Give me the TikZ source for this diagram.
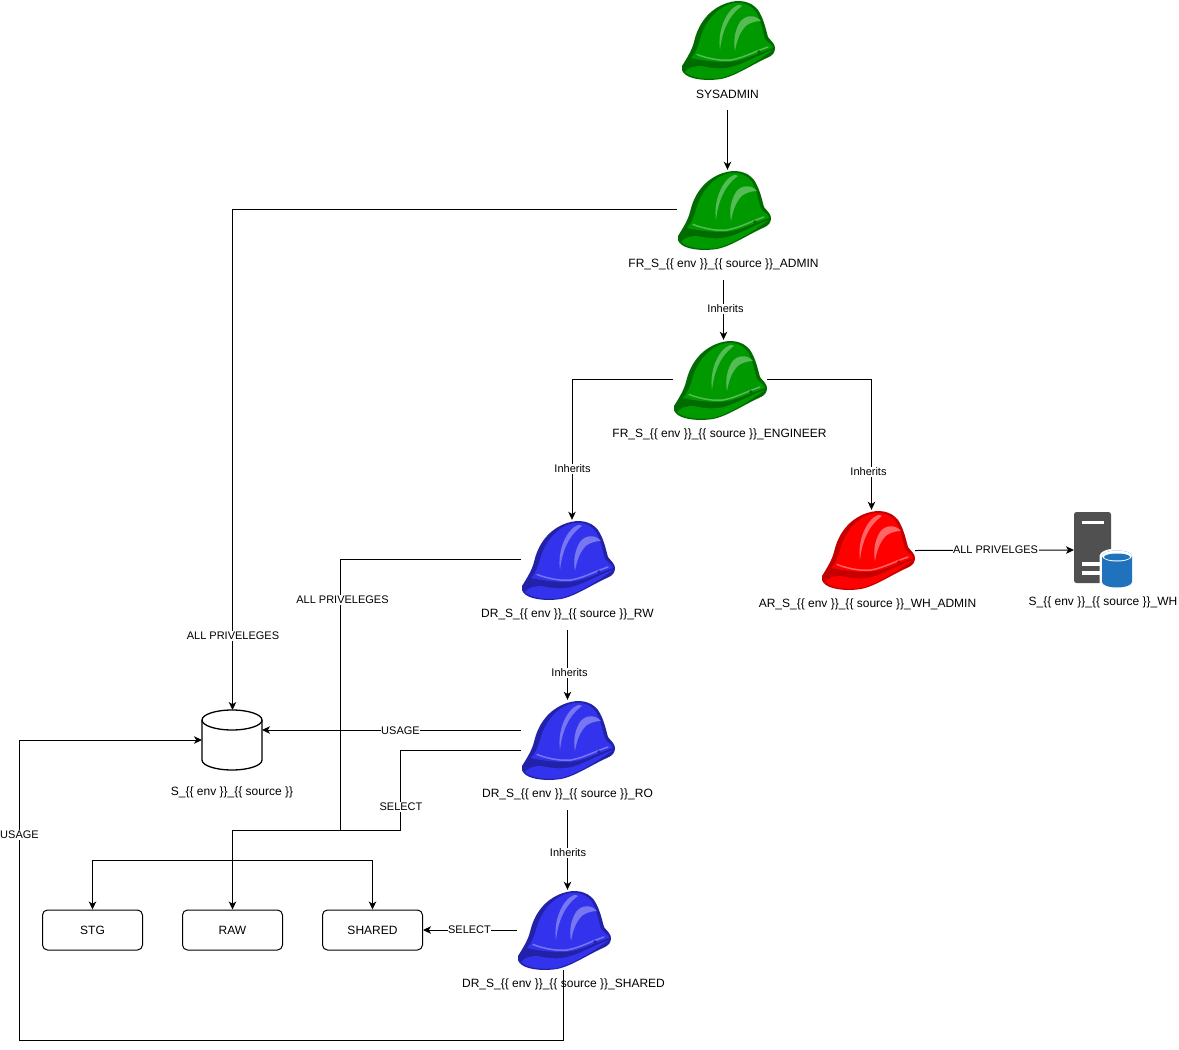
\documentclass[tikz,border=0pt]{standalone}
\usepackage{fontspec}
\setmainfont{Liberation Sans}
\usetikzlibrary{arrows.meta,calc}
\tikzset{
  x=1pt,y=-1pt,
  every node/.style={font=\fontsize{12}{14}\selectfont,inner sep=0pt},
  conn/.style={draw=black,line width=1pt,-{Stealth[length=8pt,width=7.5pt,inset=2.2pt]}},
  plainconn/.style={draw=black,line width=1pt},
  edgelabel/.style={fill=white,font=\fontsize{11}{13}\selectfont,inner xsep=0.5pt,inner ysep=1pt},
  hatanchor/.style={minimum width=94pt,minimum height=80pt},
  hatlabel/.style={minimum height=32pt},
  boxnode/.style={draw=black,line width=1pt,rounded corners=5pt,minimum width=100pt,minimum height=40pt},
}
\definecolor{gB}{HTML}{009A00}\definecolor{gD}{HTML}{006B00}\definecolor{gL}{HTML}{55BB55}\definecolor{gM}{HTML}{009A00}
\definecolor{bB}{HTML}{3333EE}\definecolor{bD}{HTML}{2222A8}\definecolor{bL}{HTML}{7777F2}\definecolor{bM}{HTML}{3333EE}
\definecolor{rB}{HTML}{FF0000}\definecolor{rD}{HTML}{C40000}\definecolor{rL}{HTML}{FF6666}\definecolor{rM}{HTML}{FF0000}
\definecolor{srv}{HTML}{505050}\definecolor{cyl}{HTML}{1F72BB}
\newcommand{\hatart}[4]{%
  \fill[#2] (1,66) .. controls (6,58) and (11,50) .. (13,42)
    .. controls (17,24) and (28,9) .. (46,3)
    .. controls (58,-1) and (70,1) .. (77,10)
    .. controls (83,19) and (85,30) .. (87,37)
    .. controls (90,41) and (94,44) .. (94,48)
    .. controls (94,52) and (92,55) .. (88,57)
    .. controls (70,65) and (55,76) .. (40,79)
    .. controls (28,81) and (12,80) .. (5,75)
    .. controls (1,72) and (0,69) .. (1,66) -- cycle;
  \fill[#1] (10,58) .. controls (15,53) and (17,46) .. (19,40)
    .. controls (23,24) and (34,9) .. (49,4)
    .. controls (60,1) and (69,4) .. (75,12)
    .. controls (80,21) and (82,33) .. (84,39)
    .. controls (87,43) and (92,45) .. (92,48)
    .. controls (72,55) and (60,62) .. (45,62)
    .. controls (33,62) and (18,60) .. (10,58) -- cycle;
  \fill[#4] (4,72) .. controls (8,67) and (14,66) .. (20,66)
    .. controls (30,68) and (42,70) .. (54,66)
    .. controls (64,63) and (78,55) .. (92,50)
    .. controls (78,60) and (58,73) .. (40,78)
    .. controls (26,80) and (10,78) .. (4,72) -- cycle;
  \draw[#3,line width=1.5pt,line cap=round] (16,54.5) .. controls (28,59) and (40,61) .. (50,60) .. controls (62,58) and (75,51) .. (87,47);
  \fill[#3] (57,5) .. controls (46,9) and (36,30) .. (39,50)
    .. controls (41,32) and (47,16) .. (61,6) .. controls (60,5) and (58,5) .. (57,5) -- cycle;
  \fill[#3] (80,21) .. controls (74,14) and (64,15) .. (59,22)
    .. controls (54,30) and (52,40) .. (54,51)
    .. controls (56,39) and (60,30) .. (66,25)
    .. controls (71,22) and (76,21) .. (80,21) -- cycle;
  \fill[#2] (78,52) circle[radius=1.8];
}
\newcommand{\hatnode}[6]{%
  \node[hatanchor] (#1) at (#2+47,#3+40) {};
  \begin{scope}[shift={(#2,#3)}]\hatart{#4B}{#4D}{#4L}{#4M}\end{scope}
  \node[hatlabel] (#1-l) at (#5,#6) {\hatlabeltext};
}
\newcommand{\tmpl}{\_\{\{ env \}\}\_\{\{ source \}\}}
\begin{document}
\begin{tikzpicture}
\useasboundingbox (0,0) rectangle (1179,1050);
\fill[white] (0,0) rectangle (1179,1050);

\def\hatlabeltext{SYSADMIN}\hatnode{sys}{681}{0}{g}{727.5}{94}
\def\hatlabeltext{FR\_S\tmpl\_ADMIN}\hatnode{fra}{677}{170}{g}{723.5}{264}
\def\hatlabeltext{FR\_S\tmpl\_ENGINEER}\hatnode{fre}{673}{340}{g}{719.5}{434}
\def\hatlabeltext{DR\_S\tmpl\_RW}\hatnode{rw}{521}{520}{b}{567.5}{614}
\def\hatlabeltext{AR\_S\tmpl\_WH\_ADMIN}\hatnode{ar}{821}{510}{r}{867.5}{604}
\def\hatlabeltext{DR\_S\tmpl\_RO}\hatnode{ro}{521}{700}{b}{567.5}{794}
\def\hatlabeltext{DR\_S\tmpl\_SHARED}\hatnode{shd}{517}{890}{b}{563.5}{984}

% warehouse icon
\node[minimum width=0pt,minimum height=76pt] (wh) at (1074,549.5) {};
\fill[srv,rounded corners=2.5pt] (1074,512) rectangle (1111,583);
\fill[white] (1082,521) rectangle (1104,524);
\fill[white] (1082,562) rectangle (1101,566);
\fill[white] (1082,571) rectangle (1101,575);
\fill[white] (1099.5,556) arc[x radius=17.5,y radius=7.5,start angle=180,end angle=360] -- (1134.5,590) -- (1099.5,590) -- cycle;
\fill[cyl] (1102,556) arc[x radius=15,y radius=5.5,start angle=180,end angle=360] -- (1132,582) arc[x radius=15,y radius=5.5,start angle=0,end angle=180] -- cycle;
\fill[white] (1102,556) arc[x radius=15,y radius=5.5,start angle=180,end angle=540];
\fill[cyl] (1104,557) arc[x radius=13,y radius=3.5,start angle=180,end angle=540];
\node (wh-l) at (1103,602) {S\tmpl\_WH};

% database
\node[minimum width=60pt,minimum height=60pt] (db) at (232,740) {};
\draw[line width=1.3pt,fill=white] (202,720) arc[x radius=30,y radius=10,start angle=180,end angle=360] -- (262,760) arc[x radius=30,y radius=10,start angle=0,end angle=180] -- cycle;
\draw[line width=1.3pt] (202,720) arc[x radius=30,y radius=10,start angle=180,end angle=0];
\node (db-l) at (232,792) {S\tmpl};

% schema boxes
\node[boxnode] (stg) at (92.5,930) {STG};
\node[boxnode] (raw) at (232.5,930) {RAW};
\node[boxnode] (shr) at (372.5,930) {SHARED};

% junction and bend points
\coordinate (jn) at (232.5,830);
\coordinate (jm) at (232.5,860);
\coordinate (dbin) at (202,740);
\coordinate (dbus) at (262,730);
\coordinate (top) at (232.5,710);

% connectors
\draw[conn] (sys-l.south) -- (sys-l.south |- fra.north);
\draw[conn] ([yshift=0.5pt]fra.west) -| (top);
\node[edgelabel] (l1) at (233,636) {ALL PRIVELEGES};
\draw[conn] (fra-l.south) -- (fra-l.south |- fre.north);
\node[edgelabel] (l2) at (725.5,309) {Inherits};
\draw[conn] ([yshift=0.5pt]fre.west) -| ([xshift=4pt]rw.north);
\node[edgelabel] (l3) at (572.5,469) {Inherits};
\draw[conn] ([yshift=0.5pt]fre.east) -| ([xshift=3.5pt]ar.north);
\node[edgelabel] (l4) at (868.5,472) {Inherits};
\draw[plainconn] ([yshift=0.5pt]rw.west) -| (340.5,830) -- (jn);
\node[edgelabel] (l5) at (342.5,600) {ALL PRIVELEGES};
\draw[conn] (rw-l.south) -- (rw-l.south |- ro.north);
\node[edgelabel] (l6) at (569.5,673) {Inherits};
\draw[conn] ([yshift=10pt]ro.west) -- (dbus);
\node[edgelabel] (l7) at (400.5,731) {USAGE};
\draw[plainconn] ([yshift=-10pt]ro.west) -- (400.5,750) -- (400.5,830) -- (jn);
\node[edgelabel] (l8) at (401,807) {SELECT};
\draw[conn] (jn) -- (raw.north);
\draw[conn] (jm) -| (stg.north);
\draw[conn] (jm) -| (shr.north);
\draw[conn] (ro-l.south) -- (ro-l.south |- shd.north);
\node[edgelabel] (l9) at (568,853) {Inherits};
\draw[conn] (shd.west) -- (shr.east);
\node[edgelabel] (l10) at (469.5,930) {SELECT};
\draw[plainconn] (shd.south) ++(-0.5,0) |- (19,1040);
\draw[conn] (19,1040) |- (dbin);
\node[edgelabel] (l11) at (19.5,835) {USAGE};
\draw[conn] ([yshift=-0.5pt]ar.east) -- ([yshift=-0.5pt]wh.center);
\node[edgelabel] (l12) at (995.5,550) {ALL PRIVELGES};
\end{tikzpicture}
\end{document}
